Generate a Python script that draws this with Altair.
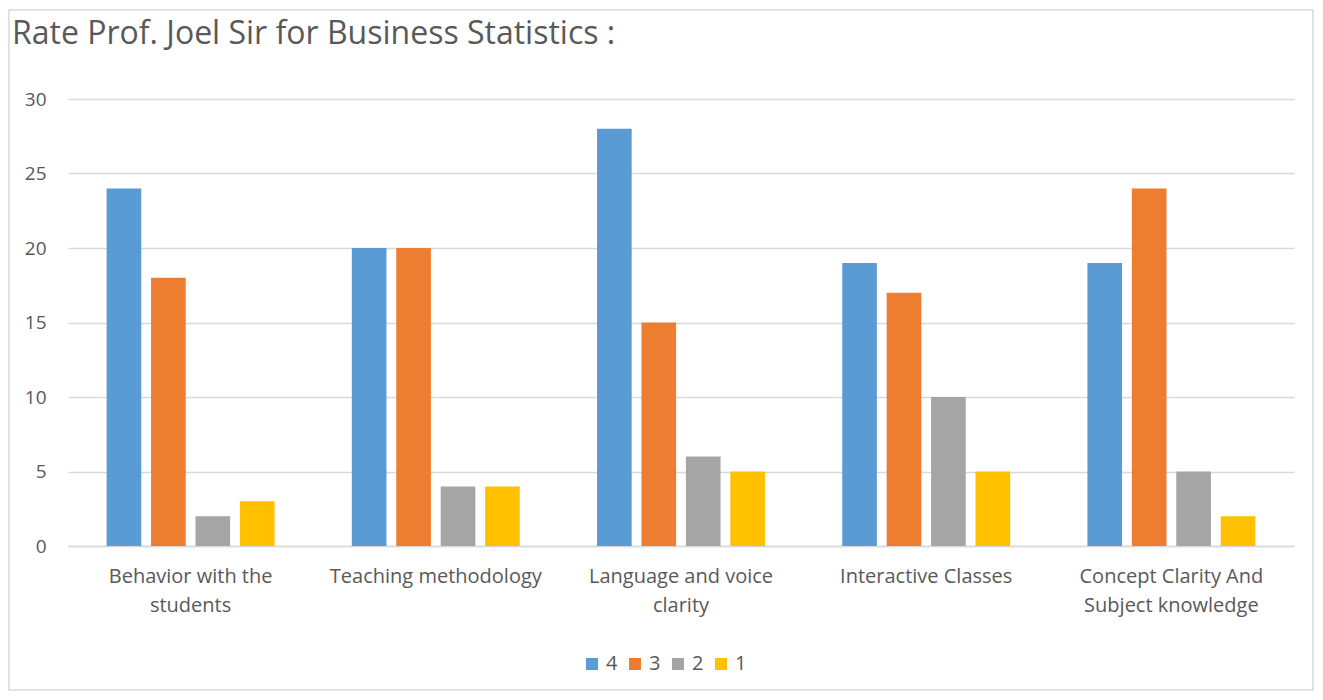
import json
import altair as alt
import pandas as pd

categories = [
    "Behavior with the students",
    "Teaching methodology",
    "Language and voice clarity",
    "Interactive Classes",
    "Concept Clarity And Subject knowledge",
]
ratings = ["4", "3", "2", "1"]
rating_4 = [24, 20, 28, 19, 19]
rating_3 = [18, 20, 15, 17, 24]
rating_2 = [2, 4, 6, 10, 5]
rating_1 = [3, 4, 5, 5, 2]
colors = ["#5B9BD5", "#ED7D31", "#A5A5A5", "#FFC000"]
y_ticks = [0, 5, 10, 15, 20, 25, 30]
title_text = "Rate Prof. Joel Sir for Business Statistics :"
label_lines = {
    "Behavior with the students": ["Behavior with the", "students"],
    "Language and voice clarity": ["Language and voice", "clarity"],
    "Concept Clarity And Subject knowledge": ["Concept Clarity And", "Subject knowledge"],
}

FONT = "Open Sans"
TEXT = "#595959"
GRID = "#d9d9d9"

series = {"4": rating_4, "3": rating_3, "2": rating_2, "1": rating_1}
rows = []
for r in ratings:
    for c, v in zip(categories, series[r]):
        rows.append({"category": c, "rating": r, "value": v})
df = pd.DataFrame(rows)

label_expr = "".join(
    f"datum.label == {json.dumps(k)} ? {json.dumps(v)} : " for k, v in label_lines.items()
) + "datum.label"

bars = alt.Chart(df).mark_bar().encode(
    x=alt.X(
        "category:N",
        sort=categories,
        scale=alt.Scale(paddingInner=0.315, paddingOuter=0.1575),
        axis=alt.Axis(
            title=None, labelAngle=0, labelExpr=label_expr, labelFont=FONT,
            labelFontSize=20, labelColor=TEXT, labelLineHeight=29, labelPadding=20,
            ticks=False, domainColor=GRID, domainWidth=1.5, labelLimit=400, grid=False,
            labelBaseline="top",
        ),
    ),
    xOffset=alt.XOffset(
        "rating:N", sort=ratings, scale=alt.Scale(paddingInner=0.22, paddingOuter=0)
    ),
    y=alt.Y(
        "value:Q",
        scale=alt.Scale(domain=[0, 30], nice=False),
        axis=alt.Axis(
            title=None, values=y_ticks, domain=False, ticks=False, labelPadding=22,
            gridColor=GRID, gridWidth=1.3, labelFont=FONT, labelFontSize=19,
            labelColor=TEXT,
        ),
    ),
    color=alt.Color(
        "rating:N",
        sort=ratings,
        scale=alt.Scale(domain=ratings, range=colors),
        legend=alt.Legend(
            title=None, orient="none", legendX=514, legendY=555, direction="horizontal",
            symbolType="square", symbolSize=144, symbolStrokeWidth=0, labelFont=FONT,
            labelFontSize=20, labelColor=TEXT, columnPadding=7, labelOffset=4,
        ),
    ),
)

border = alt.Chart(pd.DataFrame({"a": [0]})).mark_rect(
    fillOpacity=0, stroke=GRID, strokeWidth=1.5
).encode(
    x=alt.value(-59), x2=alt.value(1245), y=alt.value(-89), y2=alt.value(591)
)

chart = alt.layer(border, bars).properties(
    width=1226,
    height=447,
    autosize=alt.AutoSizeParams(type="none"),
    padding={"left": 60, "top": 91, "right": 21, "bottom": 146},
    title=alt.TitleParams(
        text=title_text, anchor="start", frame="group", dx=-56, offset=-42,
        fontSize=32, font=FONT, color=TEXT, fontWeight="normal",
    ),
).configure_view(strokeWidth=0)

chart.save("out.html", embed_options={"renderer": "svg", "actions": False})
